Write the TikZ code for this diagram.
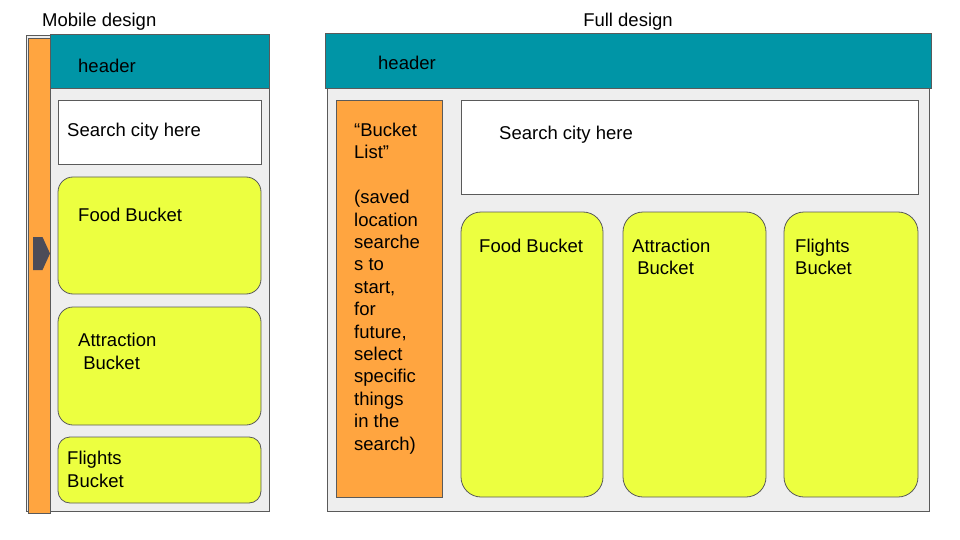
\documentclass[tikz,border=0pt]{standalone}
\usepackage{fontspec}
\setmainfont{Liberation Sans}
\usetikzlibrary{calc,positioning}
\definecolor{tealhead}{HTML}{0095A6}
\definecolor{orangebar}{HTML}{FFA540}
\definecolor{yellowbox}{HTML}{ECFF40}
\definecolor{grayback}{HTML}{EEEEEE}
\definecolor{edgegray}{HTML}{5A5A5A}
\definecolor{arrowgray}{HTML}{4C4C58}
\tikzset{
  panel/.style={draw=edgegray, line width=0.8pt, inner sep=0pt},
  frame/.style={panel, fill=grayback},
  headbar/.style={panel, fill=tealhead},
  sidebar/.style={panel, fill=orangebar},
  searchbox/.style={panel, fill=white},
  bucket/.style={panel, fill=yellowbox, rounded corners=#1},
  bucket/.default=15pt,
  txt/.style={inner sep=0pt, anchor=base west, align=left,
    font=\fontsize{18.5}{22.4}\selectfont}
}
\begin{document}
\begin{tikzpicture}[x=1pt,y=-1pt]
  \useasboundingbox (0,0) rectangle (960,540);
  % mobile design (base of a text = its last line)
  \node[txt] (mtitle) at (42,26.5) {Mobile design};
  \node[frame, minimum width=243pt, minimum height=476pt] (mframe) at (147.5,273) {};
  \node[sidebar, minimum width=22pt, minimum height=475pt] (mbar) at (39,275.5) {};
  \node[headbar, minimum width=219pt, minimum height=54pt] (mhead) at (159.5,61) {};
  \node[txt] (mheadt) at (78,72.5) {header};
  \node[searchbox, minimum width=203pt, minimum height=64pt] (msearch) at (159.5,132) {};
  \node[txt] (msearcht) at (67,137) {Search city here};
  \node[bucket, minimum width=203pt, minimum height=117pt] (mfood) at (159.5,235.5) {};
  \node[txt] (mfoodt) at (78,221.5) {Food Bucket};
  \node[bucket, minimum width=203pt, minimum height=118pt] (mattr) at (159.5,366) {};
  \node[txt] (mattrt) at (78,369) {Attraction\\\ Bucket};
  \node[bucket=12pt, minimum width=203pt, minimum height=66pt] (mflight) at (159.5,470) {};
  \node[txt] (mflightt) at (67,487) {Flights\\Bucket};
  \fill[arrowgray] (33,237) -- (42.5,237) -- (50,253.5) -- (42.5,270) -- (33,270) -- cycle;

  % full design
  \node[txt, anchor=base] (ftitle) at (628,26.5) {Full design};
  \node[frame, minimum width=602pt, minimum height=478pt] (fframe) at (628,272) {};
  \node[headbar, minimum width=606pt, minimum height=55pt] (fhead) at (628,60.5) {};
  \node[txt] (fheadt) at (378,70) {header};
  \node[sidebar, minimum width=106pt, minimum height=397pt] (flist) at (389,298.5) {};
  \node[txt] (flistt) at (354,450) {“Bucket\\List”\\[22.4pt](saved\\location\\searche\\s to\\start,\\for\\future,\\select\\specific\\things\\in the\\search)};
  \node[searchbox, minimum width=457pt, minimum height=94pt] (fsearch) at (689.5,147) {};
  \node[txt] (fsearcht) at (499,139.3) {Search city here};
  \node[bucket=20pt, minimum width=142pt, minimum height=285pt] (ffood) at (532,354.5) {};
  \node[txt] (ffoodt) at (479,252.3) {Food Bucket};
  \node[bucket=20pt, minimum width=143pt, minimum height=285pt] (fattr) at (694.5,354.5) {};
  \node[txt] (fattrt) at (632,274.5) {Attraction\\\ Bucket};
  \node[bucket=20pt, minimum width=134pt, minimum height=285pt] (fflight) at (851,354.5) {};
  \node[txt] (fflightt) at (795,274.5) {Flights\\Bucket};
\end{tikzpicture}
\end{document}
